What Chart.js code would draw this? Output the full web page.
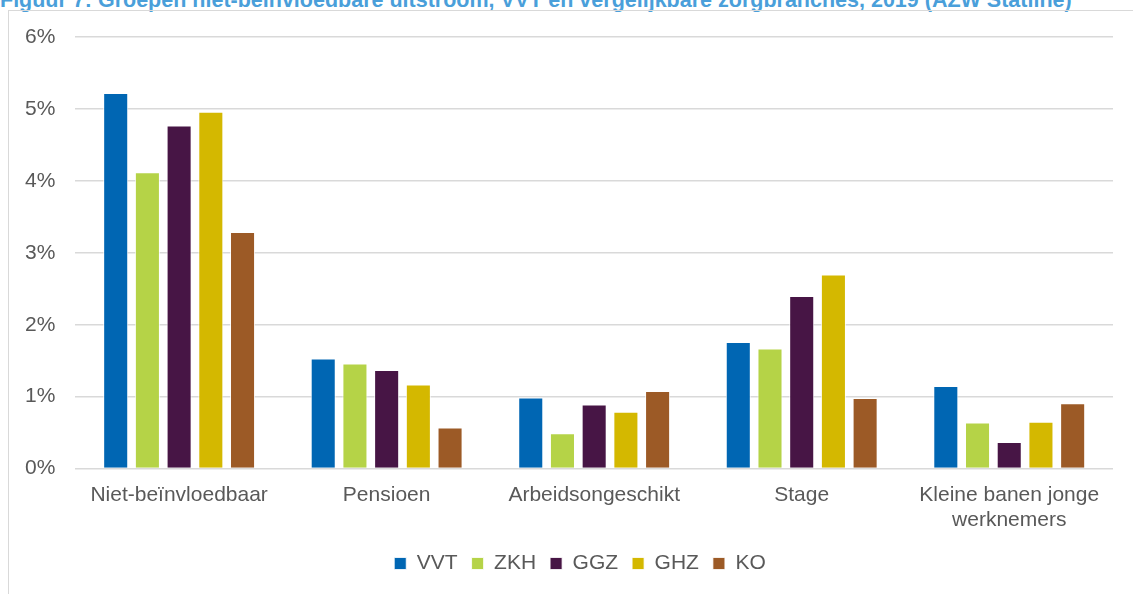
<!DOCTYPE html>
<html>
<head>
<meta charset="utf-8">
<script src="https://cdn.jsdelivr.net/npm/chart.js@4"></script>
<style>
  body { margin: 0; background: #fff; width: 1133px; height: 594px; overflow: hidden; position: relative; }
  #title {
    position: absolute; left: 0; top: -10px; white-space: nowrap;
    font: bold 21.5px "Liberation Sans", Arial, sans-serif; line-height: 21.5px;
    color: #4a9fda;
  }
  #frame {
    position: absolute; left: 8px; top: 10px; width: 1200px; height: 700px;
    border-top: 1.5px solid #d9d9d9; border-left: 1.5px solid #d9d9d9;
  }
  #wrap { position: absolute; left: 0; top: 0; width: 1133px; height: 594px; }
</style>
</head>
<body>
<div id="title">Figuur 7: Groepen niet-beïnvloedbare uitstroom, VVT en vergelijkbare zorgbranches, 2019 (AZW Statline)</div>
<div id="frame"></div>
<div id="wrap"><canvas id="chart"></canvas></div>
<script>
// categories and values (% of employees)
var categories = ['Niet-beïnvloedbaar', 'Pensioen', 'Arbeidsongeschikt', 'Stage', ['Kleine banen jonge', 'werknemers']];
var vvt = [5.22, 1.53, 0.99, 1.76, 1.15];
var zkh = [4.12, 1.46, 0.49, 1.67, 0.64];
var ggz = [4.77, 1.37, 0.89, 2.40, 0.37];
var ghz = [4.96, 1.17, 0.79, 2.70, 0.65];
var ko  = [3.29, 0.57, 1.08, 0.98, 0.91];
var yTicks = [0, 1, 2, 3, 4, 5, 6];

var font = '"Liberation Sans", Arial, sans-serif';
var textColor = '#595959';

function series(label, values, color) {
  return {
    label: label,
    data: values,
    backgroundColor: color,
    borderColor: 'rgba(255,255,255,0.8)',
    borderWidth: 1,
    categoryPercentage: 0.764,
    barPercentage: 0.79
  };
}

// nudge the legend a bit to the right, like in the original figure
var legendShift = {
  id: 'legendShift',
  afterLayout: function (chart) {
    chart.legend.left += 21;
    chart.legend.right += 21;
  }
};

new Chart(document.getElementById('chart'), {
  type: 'bar',
  data: {
    labels: categories,
    datasets: [
      series('VVT', vvt, '#0066b3'),
      series('ZKH', zkh, '#b5d347'),
      series('GGZ', ggz, '#471545'),
      series('GHZ', ghz, '#d4b800'),
      series('KO', ko, '#9c5a26')
    ]
  },
  plugins: [legendShift],
  options: {
    responsive: true,
    maintainAspectRatio: false,
    animation: false,
    layout: { padding: { left: 5, right: 20, top: 37, bottom: 10 } },
    plugins: {
      tooltip: { enabled: false },
      legend: {
        position: 'bottom',
        labels: {
          color: textColor,
          font: { family: font, size: 21 },
          boxWidth: 12,
          boxHeight: 12,
          padding: 14
        }
      }
    },
    scales: {
      x: {
        grid: { display: false },
        border: { display: false },
        ticks: {
          color: textColor,
          font: { family: font, size: 21 },
          maxRotation: 0,
          padding: 6
        }
      },
      y: {
        min: 0,
        max: 6,
        afterBuildTicks: function (axis) {
          axis.ticks = yTicks.map(function (v) { return { value: v }; });
        },
        grid: { color: '#d9d9d9', lineWidth: 1.5, drawTicks: false },
        border: { display: false },
        ticks: {
          color: textColor,
          font: { family: font, size: 21 },
          padding: 20,
          callback: function (v) { return v + '%'; }
        }
      }
    }
  }
});
</script>
</body>
</html>
